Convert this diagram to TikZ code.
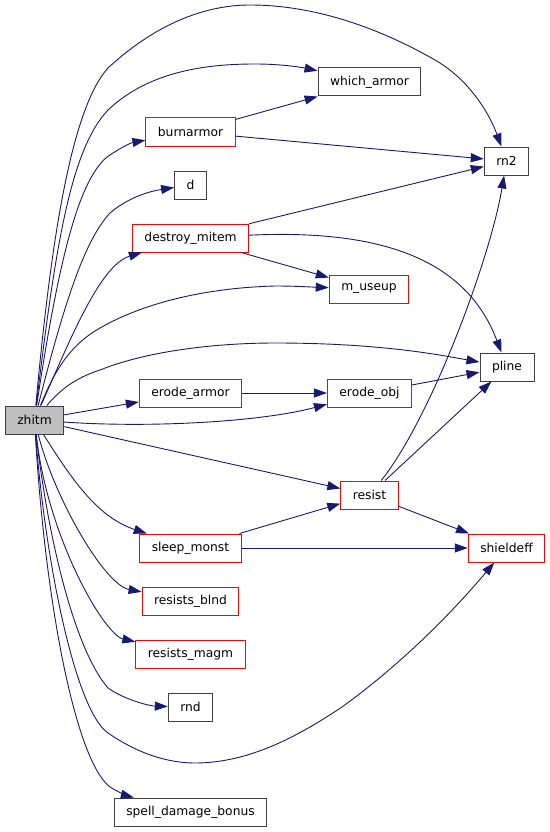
\documentclass[tikz,border=0pt]{standalone}
\usepackage{fontspec}
\setmainfont{DejaVu Sans}
\usetikzlibrary{arrows.meta}

\definecolor{callblue}{HTML}{191970}

\begin{document}
\begin{tikzpicture}[x=1pt, y=-1pt,
  fn/.style={draw=black!75, fill=white, line width=1pt, minimum height=28pt,
    inner xsep=12pt, inner ysep=0pt, font=\fontsize{12.3}{14}\selectfont},
  fnred/.style={fn, draw=red},
  call/.style={draw=callblue, line width=0.9pt, -{Triangle[length=13pt,width=9pt]}}]
  % page = 549 x 832, y runs downwards
  \useasboundingbox (0,0) rectangle (549,832);

  % caller
  \node[fn, fill=black!25] (zhitm) at (34.5,420) {zhitm};
  % first column
  \node[fnred] (burnarmor)  at (190.5,132) {burnarmor};
  \node[fn]    (d)          at (190.5,185) {d};
  \node[fnred] (destroy)    at (190.5,238) {destroy\_mitem};
  \node[fnred] (erodearmor) at (190.5,393) {erode\_armor};
  \node[fnred] (sleep)      at (190.5,548) {sleep\_monst};
  \node[fnred] (blnd)       at (190.5,601) {resists\_blnd};
  \node[fnred] (magm)       at (190.5,654) {resists\_magm};
  \node[fn]    (rnd)        at (190.5,707) {rnd};
  \node[fn]    (spell)      at (190.5,812) {spell\_damage\_bonus};
  % second column
  \node[fn]    (which)      at (369.5,82)  {which\_armor};
  \node[fnred] (useup)      at (369,289)   {m\_useup};
  \node[fnred] (erodeobj)   at (369.5,393) {erode\_obj};
  \node[fnred] (resist)     at (369.5,495) {resist};
  % third column
  \node[fn]    (rn2)        at (506.5,161) {rn2};
  \node[fn]    (pline)      at (507,367)   {pline};
  \node[fnred] (shield)     at (506.5,548) {shieldeff};

  % calls from zhitm, top to bottom
  \draw[call] (zhitm) .. controls (50,250) and (70,110) .. (108,68)
    .. controls (160,20) and (210,5) .. (250,5)
    .. controls (330,5) and (400,40) .. (435,60)
    .. controls (470,80) and (490,115) .. (rn2);
  \draw[call] (zhitm) .. controls (55,250) and (70,150) .. (108,110)
    .. controls (150,70) and (210,64) .. (255,64)
    .. controls (280,64) and (300,67) .. (which);
  \draw[call] (zhitm) .. controls (60,250) and (80,180) .. (107,157)
    .. controls (117,150) and (130,143) .. (burnarmor);
  \draw[call] (zhitm) .. controls (65,300) and (85,240) .. (110,213)
    .. controls (125,200) and (145,192) .. (d);
  \draw[call] (zhitm) .. controls (70,340) and (100,265) .. (destroy);
  \draw[call] (zhitm) .. controls (55,370) and (70,345) .. (100,328)
    .. controls (140,305) and (200,288) .. (275,286)
    .. controls (295,286) and (310,287) .. (useup);
  \draw[call] (zhitm) .. controls (60,390) and (75,378) .. (100,370)
    .. controls (150,350) and (220,343) .. (275,343)
    .. controls (380,343) and (440,355) .. (pline);
  \draw[call] (zhitm) -- (erodearmor);
  \draw[call] (zhitm) .. controls (150,428) and (260,422) .. (erodeobj);
  \draw[call] (zhitm) -- (resist);
  \draw[call] (zhitm) .. controls (75,485) and (100,518) .. (sleep);
  \draw[call] (zhitm) .. controls (55,500) and (105,585) .. (blnd);
  \draw[call] (zhitm) .. controls (48,540) and (105,635) .. (magm);
  \draw[call] (zhitm) .. controls (48,540) and (75,650) .. (108,688)
    .. controls (125,700) and (150,706) .. (rnd);
  \draw[call] (zhitm) .. controls (45,560) and (75,710) .. (108,733)
    .. controls (140,755) and (170,763) .. (195,763)
    .. controls (250,763) and (300,735) .. (342,707)
    .. controls (400,665) and (450,615) .. (shield);
  \draw[call] (zhitm) .. controls (45,600) and (75,760) .. (110,787)
    .. controls (118,792) and (128,796) .. (spell);

  % calls between the callees
  \draw[call] (burnarmor) -- (which);
  \draw[call] (burnarmor) -- (rn2);
  \draw[call] (destroy) -- (rn2);
  \draw[call] (destroy) .. controls (400,228) and (470,270) .. (pline);
  \draw[call] (destroy) -- (useup);
  \draw[call] (erodearmor) -- (erodeobj);
  \draw[call] (erodeobj) -- (pline);
  \draw[call] (resist) .. controls (430,420) and (490,260) .. (rn2);
  \draw[call] (resist) -- (pline);
  \draw[call] (resist) -- (shield);
  \draw[call] (sleep) -- (resist);
  \draw[call] (sleep) -- (shield);
\end{tikzpicture}
\end{document}
